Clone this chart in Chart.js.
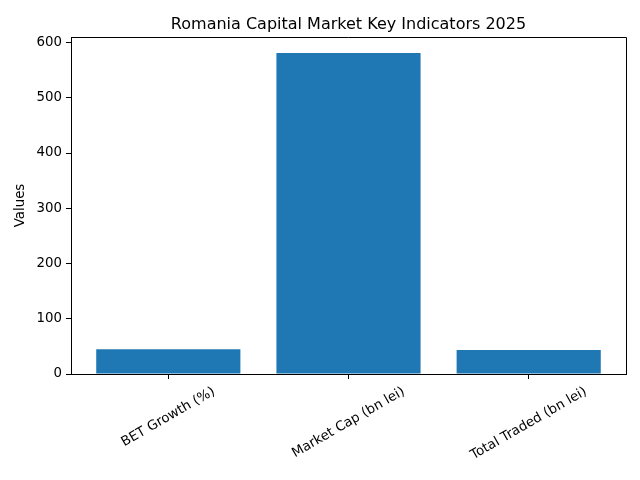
<!DOCTYPE html>
<html>
<head>
<meta charset="utf-8">
<script src="https://cdn.jsdelivr.net/npm/chart.js@4/dist/chart.umd.min.js"></script>
<style>
  html, body { margin: 0; padding: 0; background: #fff; }
  #wrap { width: 640px; height: 480px; }
</style>
</head>
<body>
<div id="wrap"><canvas id="chart-bars" width="640" height="480"></canvas></div>
<script>
const chartTitle = 'Romania Capital Market Key Indicators 2025';
const categories = ['BET Growth (%)', 'Market Cap (bn lei)', 'Total Traded (bn lei)'];
const values = [45, 581, 43.5];
const yTicks = [0, 100, 200, 300, 400, 500, 600];

const FONT = "'DejaVu Sans', sans-serif";
const BAR_COLOR = '#1f77b4';

// matplotlib-ish extras: full box, centred title, centred rotated x labels
const mplExtras = {
  id: 'mplExtras',
  afterDraw(chart) {
    const { ctx, chartArea, scales } = chart;
    ctx.save();
    ctx.strokeStyle = '#000';
    ctx.lineWidth = 1;
    ctx.beginPath();
    ctx.moveTo(chartArea.left, chartArea.top + 0.5);
    ctx.lineTo(chartArea.right + 0.5, chartArea.top + 0.5);
    ctx.lineTo(chartArea.right + 0.5, chartArea.bottom);
    ctx.stroke();

    ctx.fillStyle = '#000';
    ctx.font = `16px ${FONT}`;
    ctx.textAlign = 'center';
    ctx.textBaseline = 'alphabetic';
    ctx.fillText(chartTitle, (chartArea.left + chartArea.right) / 2, 29);

    ctx.font = `13.33px ${FONT}`;
    ctx.textBaseline = 'middle';
    const angle = Math.PI / 6;
    const h = 15.5;
    categories.forEach((label, i) => {
      const px = scales.x.getPixelForValue(i);
      const w = ctx.measureText(label).width;
      const boxH = w * Math.sin(angle) + h * Math.cos(angle);
      const cy = chartArea.bottom + 10 + boxH / 2;
      ctx.save();
      ctx.translate(px, cy);
      ctx.rotate(-angle);
      ctx.fillText(label, 0, 0);
      ctx.restore();
    });
    ctx.restore();
  },
};

Chart.defaults.font.family = FONT;
Chart.defaults.font.size = 13.33;
Chart.defaults.color = '#000';

const ctx = document.getElementById('chart-bars').getContext('2d');
new Chart(ctx, {
  type: 'bar',
  data: {
    datasets: [{
      data: values.map((v, i) => ({ x: i, y: v })),
      backgroundColor: BAR_COLOR,
      borderColor: BAR_COLOR,
      borderWidth: 0,
      categoryPercentage: 0.8,
      barPercentage: 1,
    }],
  },
  options: {
    responsive: false,
    animation: false,
    devicePixelRatio: 1,
    layout: { padding: { left: 9, top: 37, right: 14, bottom: 0 } },
    plugins: {
      legend: { display: false },
      title: { display: false },
      tooltip: { enabled: false },
    },
    scales: {
      x: {
        type: 'linear',
        offset: false,
        min: -0.54,
        max: 2.54,
        afterBuildTicks: (scale) => { scale.ticks = categories.map((_, i) => ({ value: i })); },
        afterFit: (scale) => { scale.height = 480 - 374; },
        ticks: { display: false },
        grid: { display: true, offset: false, drawOnChartArea: false, drawTicks: true, tickLength: 5, color: '#000' },
        border: { display: true, color: '#000', width: 1 },
      },
      y: {
        min: 0,
        max: 581 * 1.05,
        afterBuildTicks: (scale) => { scale.ticks = yTicks.map((v) => ({ value: v })); },
        afterFit: (scale) => { scale.width = 62; },
        ticks: { padding: 4, color: '#000', font: { size: 13.33 } },
        grid: { display: true, drawOnChartArea: false, drawTicks: true, tickLength: 5, color: '#000' },
        border: { display: true, color: '#000', width: 1 },
        title: { display: true, text: 'Values', color: '#000', font: { size: 13.33 }, padding: { top: 4, bottom: 0 } },
      },
    },
  },
  plugins: [mplExtras],
});
</script>
</body>
</html>
